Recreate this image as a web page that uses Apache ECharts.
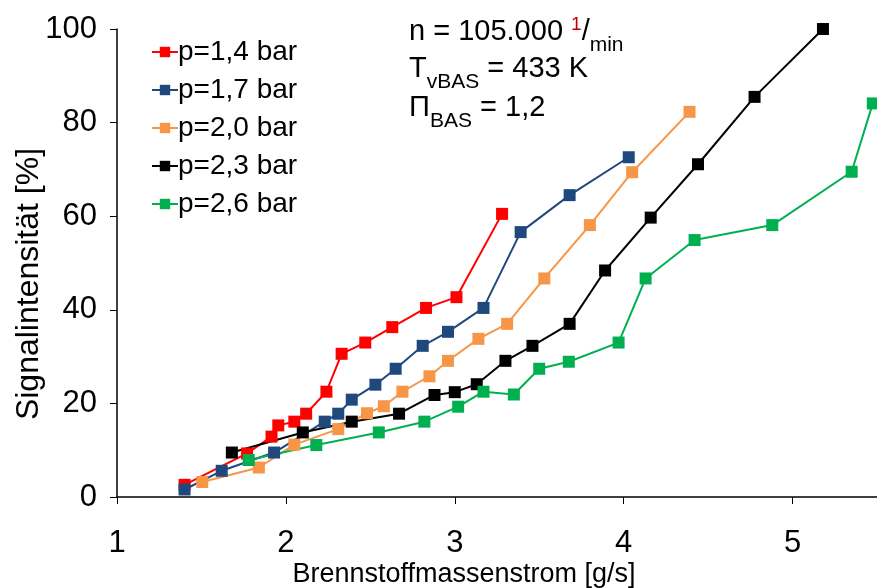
<!DOCTYPE html>
<html>
<head>
<meta charset="utf-8">
<script src="https://cdn.jsdelivr.net/npm/echarts@6/dist/echarts.min.js"></script>
<style>
  html, body { margin: 0; padding: 0; background: #fff; }
  #chart { width: 877px; height: 588px; }
</style>
</head>
<body>
<div id="chart"></div>
<script>
// Fuel mass flow [g/s] vs. signal intensity [%] for five supply pressures
const seriesNames = ['p=1,4 bar', 'p=1,7 bar', 'p=2,0 bar', 'p=2,3 bar', 'p=2,6 bar'];
const seriesColors = ['#FF0000', '#1F497D', '#F79646', '#000000', '#00B050'];

const flow14 = [1.40, 1.77, 1.915, 1.955, 2.05, 2.12, 2.24, 2.33, 2.47, 2.63, 2.83, 3.01, 3.28];
const signal14 = [2.6, 9.3, 12.9, 15.3, 16.1, 17.8, 22.5, 30.6, 33.0, 36.3, 40.4, 42.7, 60.5];

const flow17 = [1.40, 1.62, 1.93, 2.23, 2.31, 2.39, 2.53, 2.65, 2.81, 2.96, 3.17, 3.39, 3.68, 4.03];
const signal17 = [1.6, 5.6, 9.5, 16.1, 17.8, 20.8, 24.0, 27.4, 32.3, 35.3, 40.4, 56.6, 64.5, 72.6];

const flow20 = [1.505, 1.84, 2.05, 2.31, 2.48, 2.58, 2.69, 2.85, 2.96, 3.14, 3.31, 3.53, 3.80, 4.05, 4.39];
const signal20 = [3.2, 6.3, 11.2, 14.5, 17.9, 19.4, 22.5, 25.8, 29.1, 33.8, 37.0, 46.7, 58.1, 69.4, 82.3];

const flow23 = [1.68, 2.10, 2.39, 2.67, 2.88, 3.00, 3.13, 3.30, 3.46, 3.68, 3.89, 4.16, 4.44, 4.775, 5.18];
const signal23 = [9.5, 13.8, 16.1, 17.8, 21.8, 22.4, 24.1, 29.1, 32.3, 37.0, 48.4, 59.7, 71.1, 85.5, 100.0];

const flow26 = [1.78, 2.18, 2.55, 2.82, 3.02, 3.17, 3.35, 3.50, 3.675, 3.97, 4.13, 4.42, 4.88, 5.35, 5.475];
const signal26 = [7.9, 11.1, 13.8, 16.1, 19.3, 22.5, 21.9, 27.4, 28.9, 33.0, 46.7, 54.9, 58.1, 69.5, 84.1];

const xTicks = [1, 2, 3, 4, 5];
const yTicks = [0, 20, 40, 60, 80, 100];

const flows = [flow14, flow17, flow20, flow23, flow26];
const signals = [signal14, signal17, signal20, signal23, signal26];

const FONT = '"Liberation Sans", Arial, sans-serif';

const chart = echarts.init(document.getElementById('chart'), null, { renderer: 'canvas' });

const series = seriesNames.map((name, i) => ({
  name: name,
  type: 'line',
  data: flows[i].map((x, k) => [x, signals[i][k]]),
  symbol: 'rect',
  symbolSize: 12,
  showAllSymbol: true,
  lineStyle: { color: seriesColors[i], width: 2 },
  itemStyle: { color: seriesColors[i] },
  emphasis: { disabled: true },
  animation: false
}));

const axisCommon = {
  axisLine: { show: true, lineStyle: { color: '#000', width: 1.5 } },
  axisTick: { show: true, length: 7, lineStyle: { color: '#000', width: 1 } },
  splitLine: { show: false },
  nameLocation: 'middle',
  nameMoveOverlap: false
};

// Annotation text styles (main text plus sub/superscripts)
const mainText = { fontSize: 29, fontFamily: FONT, fill: '#000', lineHeight: 34 };
const subText = { fontSize: 21, fontFamily: FONT, fill: '#000', lineHeight: 18, verticalAlign: 'bottom', padding: [0, 0, -7, 0] };
const supText = { fontSize: 19, fontFamily: FONT, fill: '#C00000', lineHeight: 18, verticalAlign: 'top' };

chart.setOption({
  backgroundColor: '#fff',
  animation: false,
  grid: { left: 117, right: 0, top: 29, bottom: 91, containLabel: false, outerBoundsMode: 'none' },
  xAxis: Object.assign({}, axisCommon, {
    type: 'value',
    min: xTicks[0],
    max: 5.5,
    interval: 1,
    name: 'Brennstoffmassenstrom [g/s]',
    nameGap: 64,
    nameTextStyle: { color: '#000', fontSize: 27, fontFamily: FONT, padding: [0, 66, 0, 0] },
    axisLabel: {
      color: '#000', fontSize: 31, fontFamily: FONT, margin: 31,
      showMaxLabel: false,
      formatter: v => (xTicks.indexOf(v) >= 0 ? String(v) : '')
    }
  }),
  yAxis: Object.assign({}, axisCommon, {
    type: 'value',
    min: yTicks[0],
    max: yTicks[yTicks.length - 1],
    interval: 20,
    name: 'Signalintensität [%]',
    nameGap: 72,
    nameTextStyle: { color: '#000', fontSize: 32, fontFamily: FONT, padding: [0, 42, 0, 0] },
    axisLabel: { color: '#000', fontSize: 31, fontFamily: FONT, margin: 20 }
  }),
  legend: {
    orient: 'vertical',
    left: 146,
    top: 33,
    itemWidth: 26,
    itemHeight: 13,
    itemGap: 10,
    textStyle: { color: '#000', fontSize: 28, fontFamily: FONT, padding: [0, 0, 0, -5] },
    data: seriesNames
  },
  graphic: [
    {
      type: 'text', left: 409, top: 15, silent: true,
      style: {
        text: '{m|n = 105.000 }{sup|1}{m|/}{sub|min}',
        rich: { m: mainText, sup: supText, sub: subText }
      }
    },
    {
      type: 'text', left: 409, top: 54, silent: true,
      style: {
        text: '{m|T}{sub|vBAS}{m| = 433 K}',
        rich: { m: mainText, sub: subText }
      }
    },
    {
      type: 'text', left: 409, top: 93, silent: true,
      style: {
        text: '{m|Π}{sub|BAS}{m| = 1,2}',
        rich: { m: mainText, sub: subText }
      }
    }
  ],
  series: series
});
</script>
</body>
</html>
